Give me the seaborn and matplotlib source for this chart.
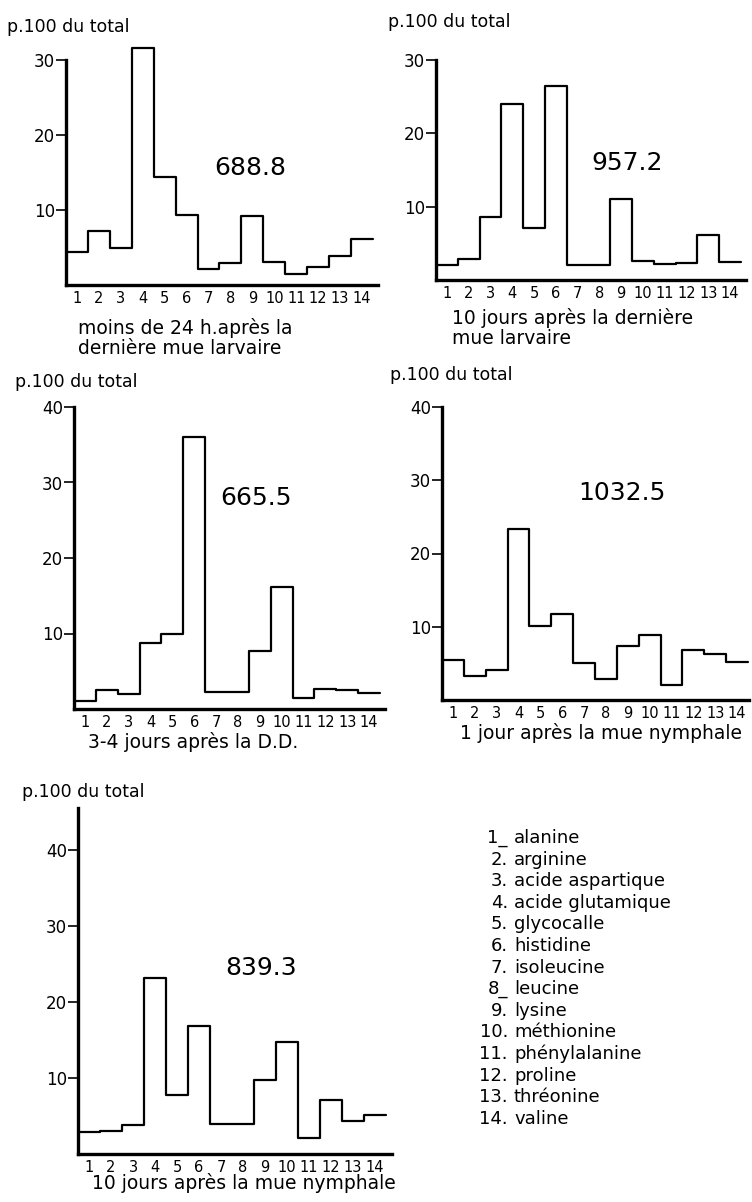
import numpy as np
import pandas as pd
import matplotlib
matplotlib.use("Agg")
import matplotlib.pyplot as plt
import seaborn as sns

# ---------------- data ----------------
acid_ids = list(range(1, 15))
tick_labels = [str(i) for i in acid_ids]

vals_24h = [4.4, 7.2, 5.0, 31.6, 14.4, 9.4, 2.2, 3.0, 9.2, 3.1, 1.5, 2.4, 3.9, 6.1]
vals_10j_larv = [2.0, 2.8, 8.6, 24.0, 7.1, 26.5, 2.0, 2.0, 11.0, 2.6, 2.2, 2.3, 6.1, 2.4]
vals_dd = [1.1, 2.5, 2.0, 8.8, 10.0, 36.0, 2.2, 2.3, 7.7, 16.2, 1.5, 2.7, 2.5, 2.1]
vals_1j_nymph = [5.5, 3.3, 4.1, 23.3, 10.1, 11.7, 5.1, 2.8, 7.4, 8.9, 2.0, 6.8, 6.3, 5.2]
vals_10j_nymph = [2.85, 3.0, 3.8, 23.2, 7.7, 16.9, 4.0, 4.0, 9.8, 14.8, 2.1, 7.1, 4.3, 5.1]

totals = ["688.8", "957.2", "665.5", "1032.5", "839.3"]
stage_labels = [
    "moins de 24 h.après la\ndernière mue larvaire",
    "10 jours après la dernière\nmue larvaire",
    "3-4 jours après la D.D.",
    "1 jour après la mue nymphale",
    "10 jours après la mue nymphale",
]
ylabel_text = "p.100 du total"

legend_nums = ["1_", "2.", "3.", "4.", "5.", "6.", "7.", "8_", "9.", "10.", "11.", "12.", "13.", "14."]
legend_names = ["alanine", "arginine", "acide aspartique", "acide glutamique", "glycocalle",
                "histidine", "isoleucine", "leucine", "lysine", "méthionine",
                "phénylalanine", "proline", "thréonine", "valine"]

# ---------------- style ----------------
sns.set_theme(style="white")
plt.rcParams["font.family"] = ["DejaVu Sans"]
plt.rcParams["text.color"] = "black"
plt.rcParams["xtick.color"] = "black"
plt.rcParams["ytick.color"] = "black"
plt.rcParams["axes.labelcolor"] = "black"

W, H = 752, 1202
fig = plt.figure(figsize=(W / 100, H / 100), dpi=100)
fig.patch.set_facecolor("white")


def fx(x):
    return x / W


def fy(y):
    return 1 - y / H


def panel(values, L, Rb, base, scale, ymax, spine_top, yticks, ext=0.25):
    nb = len(values)
    width_px = (Rb - L) * (nb + ext) / nb
    height_px = ymax * scale
    ax = fig.add_axes([fx(L), fy(base), width_px / W, height_px / H])
    df = pd.DataFrame({"acide": acid_ids, "pct": values})
    sns.histplot(data=df, x="acide", weights="pct", binwidth=1, binrange=(0.5, nb + 0.5),
                 element="step", fill=False, color="black", linewidth=1.6, ax=ax)
    for art in ax.lines + ax.patches + ax.collections:
        art.set_clip_on(False)
    ax.set_xlim(0.5, nb + 0.5 + ext)
    ax.set_ylim(0, ymax)
    for s in ["top", "right"]:
        ax.spines[s].set_visible(False)
    for s in ["left", "bottom"]:
        ax.spines[s].set_color("black")
        ax.spines[s].set_linewidth(2.4)
    ax.spines["left"].set_bounds(0, spine_top)
    ax.set_yticks(yticks)
    ax.set_yticklabels([str(t) for t in yticks], fontsize=12)
    ax.tick_params(axis="y", length=7, width=1.2, colors="black", pad=1, direction="out", left=True)
    ax.set_xticks(acid_ids)
    ax.set_xticklabels(tick_labels, fontsize=10.5)
    ax.tick_params(axis="x", length=0, pad=4, colors="black")
    ax.set_xlabel("")
    ax.set_ylabel("")
    ax.grid(False)
    ax.patch.set_alpha(0)
    return ax


panel(vals_24h, 66, 373, 285, 7.5, 32, 30, [10, 20, 30])
panel(vals_10j_larv, 436, 741, 280, 7.33, 30, 30, [10, 20, 30])
panel(vals_dd, 74, 380, 709, 7.55, 40, 40, [10, 20, 30, 40])
panel(vals_1j_nymph, 442, 748, 700, 7.325, 40, 40, [10, 20, 30, 40], ext=0.05)
panel(vals_10j_nymph, 78, 386, 1154, 7.6, 45.5, 45.5, [10, 20, 30, 40])

# y-axis captions
for (x, y) in [(7, 27), (388, 22), (15, 382), (390, 375), (22, 792)]:
    fig.text(fx(x), fy(y), ylabel_text, fontsize=12.5, ha="left", va="center", color="black")

# totals
for t, (x, y) in zip(totals, [(250, 168), (627, 163), (256, 498), (622, 493), (261, 968)]):
    fig.text(fx(x), fy(y), t, fontsize=18, ha="center", va="center", color="black")

# stage captions
for lab, (x, y) in zip(stage_labels, [(78, 328), (452, 318), (88, 742), (460, 733), (92, 1183)]):
    for i, ln in enumerate(lab.split("\n")):
        fig.text(fx(x), fy(y + i * 20), ln, fontsize=13.5, ha="left", va="center", color="black")

# legend of amino acids
for i, (n, name) in enumerate(zip(legend_nums, legend_names)):
    y = 838 + i * 21.6
    fig.text(fx(508), fy(y), n, fontsize=13, ha="right", va="center", color="black")
    fig.text(fx(514), fy(y), name, fontsize=13, ha="left", va="center", color="black")

fig.savefig("out.png", dpi=100, facecolor="white")
